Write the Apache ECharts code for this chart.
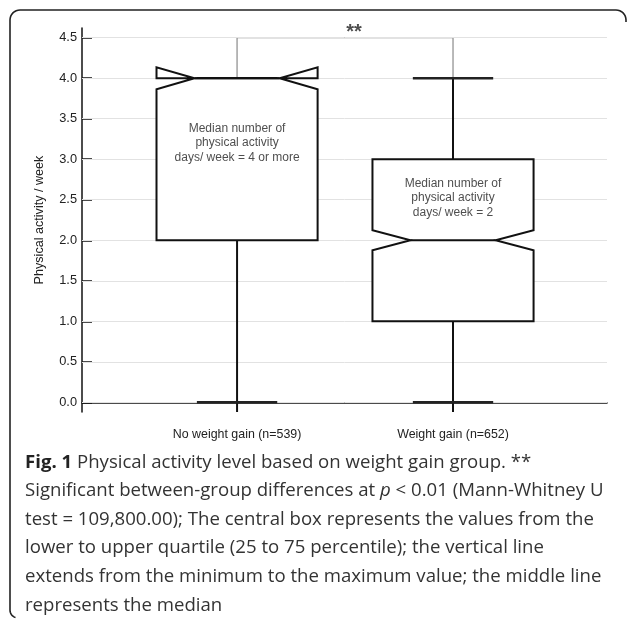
<!DOCTYPE html>
<html>
<head>
<meta charset="utf-8">
<script src="https://cdn.jsdelivr.net/npm/echarts@6/dist/echarts.min.js"></script>
<style>html,body{margin:0;padding:0;background:#fff;}#c{width:629px;height:620px;}</style>
</head>
<body>
<div id="c"></div>
<script>
// ---- data ----
const categories = ['No weight gain (n=539)', 'Weight gain (n=652)'];
const minVals = [0, 0];
const q1Vals = [2, 1];
const medians = [4, 2];
const q3Vals = [4, 3];
const maxVals = [4, 4];
const notchHalf = [0.135, 0.124];
const boxTexts = [
  'Median number of\nphysical activity\ndays/ week = 4 or more',
  'Median number of\nphysical activity\ndays/ week = 2'
];
const boxTextY = [3.2, 2.52];
const yTickValues = [0, 0.5, 1, 1.5, 2, 2.5, 3, 3.5, 4, 4.5];
const sigBracket = { from: 1, to: 2, base: 4.0, top: 4.5, label: '**' };

const Y_MIN = -0.12, Y_MAX = 4.62;
const X_MIN = 0.282, X_MAX = 2.713;
const BOX_HALF = 0.373, NOTCH_INNER = 0.197, CAP_HALF = 0.186;

const boxData = categories.map((c, i) => [i + 1, minVals[i], q1Vals[i], medians[i], q3Vals[i], maxVals[i], notchHalf[i]]);

function renderBox(params, api) {
  const x = api.value(0), mn = api.value(1), q1 = api.value(2), md = api.value(3), q3 = api.value(4), mx = api.value(5), n = api.value(6);
  const P = (xx, yy) => api.coord([xx, yy]);
  const L = x - BOX_HALF, R = x + BOX_HALF, Li = x - NOTCH_INNER, Ri = x + NOTCH_INNER;
  const poly = [
    P(L, q1), P(L, md - n), P(Li, md), P(L, md + n), P(L, q3),
    P(R, q3), P(R, md + n), P(Ri, md), P(R, md - n), P(R, q1)
  ];
  const capStyle = { stroke: '#222', lineWidth: 2.5 };
  const children = [];
  const a = P(x, q1), b = P(x, Y_MIN);
  children.push({ type: 'line', shape: { x1: a[0], y1: a[1], x2: b[0], y2: b[1] }, style: { stroke: '#111', lineWidth: 2 } });
  if (mx > q3) {
    const c1 = P(x, q3), c2 = P(x, mx);
    children.push({ type: 'line', shape: { x1: c1[0], y1: c1[1], x2: c2[0], y2: c2[1] }, style: { stroke: '#111', lineWidth: 2 } });
  }
  const m1 = P(x - CAP_HALF, mn), m2 = P(x + CAP_HALF, mn);
  children.push({ type: 'line', shape: { x1: m1[0], y1: m1[1], x2: m2[0], y2: m2[1] }, style: capStyle });
  const t1 = P(x - CAP_HALF, mx), t2 = P(x + CAP_HALF, mx);
  children.push({ type: 'line', shape: { x1: t1[0], y1: t1[1], x2: t2[0], y2: t2[1] }, style: capStyle });
  children.push({ type: 'polygon', shape: { points: poly }, style: { stroke: '#111', lineWidth: 2, fill: '#fff' } });
  const d1 = P(Li, md), d2 = P(Ri, md);
  children.push({ type: 'line', shape: { x1: d1[0], y1: d1[1], x2: d2[0], y2: d2[1] }, style: { stroke: '#111', lineWidth: 2 } });
  return { type: 'group', children };
}

// frame outline points (decorative)
function arcPts(cx, cy, r, a0, a1) {
  const pts = [];
  for (let k = 0; k <= 8; k++) {
    const t = a0 + (a1 - a0) * k / 8;
    pts.push([cx + r * Math.cos(t), cy + r * Math.sin(t)]);
  }
  return pts;
}
const framePts = [].concat(
  [[626, 22]],
  arcPts(616, 20, 10, 0, -Math.PI / 2),
  arcPts(20, 20, 10, -Math.PI / 2, -Math.PI),
  arcPts(18, 610, 8, Math.PI, Math.PI * 0.6)
);

const chart = echarts.init(document.getElementById('c'), null, { renderer: 'canvas' });
const option = {
  animation: false,
  backgroundColor: '#fff',
  textStyle: { fontFamily: 'Liberation Sans, Arial, sans-serif' },
  grid: { left: 82, right: 22, top: 28, bottom: 208, containLabel: false },
  xAxis: {
    type: 'value', min: X_MIN, max: X_MAX,
    axisLine: { show: true, lineStyle: { color: '#111', width: 1.5 } },
    axisTick: { show: false },
    splitLine: { show: false },
    axisLabel: {
      customValues: [1, 2],
      formatter: v => categories[Math.round(v) - 1] || '',
      color: '#222', fontSize: 12.4, margin: 17,
      fontFamily: 'Liberation Sans, Arial, sans-serif'
    }
  },
  yAxis: {
    type: 'value', min: Y_MIN, max: Y_MAX,
    name: 'Physical activity / week', nameLocation: 'middle', nameRotate: 90, nameGap: 36,
    nameTextStyle: { color: '#222', fontSize: 12.6, fontFamily: 'Liberation Sans, Arial, sans-serif' },
    axisLine: { show: true, lineStyle: { color: '#111', width: 1.5 } },
    axisTick: { show: true, inside: true, length: 10, customValues: yTickValues, lineStyle: { color: '#111', width: 1.5 } },
    splitLine: { show: false },
    axisLabel: {
      customValues: yTickValues,
      formatter: v => v.toFixed(1),
      color: '#222', fontSize: 12.8, margin: 5,
      fontFamily: 'Liberation Sans, Arial, sans-serif'
    }
  },
  series: [
    {
      type: 'line', silent: true, symbol: 'none', data: [],
      markLine: {
        silent: true, symbol: 'none', label: { show: false },
        lineStyle: { color: '#e2e2e2', width: 1, type: 'solid' },
        data: yTickValues.map(v => ({ yAxis: v }))
      }
    },
    {
      type: 'line', silent: true, symbol: 'none', z: 3,
      lineStyle: { color: '#8a8a8a', width: 1.2 },
      data: [[sigBracket.from, sigBracket.base], [sigBracket.from, sigBracket.top], [sigBracket.to, sigBracket.top], [sigBracket.to, sigBracket.base]]
    },
    {
      type: 'custom', z: 5, renderItem: renderBox, data: boxData,
      encode: { x: 0, y: [1, 2, 3, 4, 5] }
    },
    {
      type: 'scatter', z: 6, symbolSize: 0, silent: true,
      data: [[(sigBracket.from + sigBracket.to) / 2, sigBracket.top]],
      label: { show: true, position: 'top', distance: 1, offset: [9, 6], formatter: sigBracket.label, color: '#222', fontSize: 20, fontWeight: 'bold', fontFamily: 'Liberation Sans, Arial, sans-serif' }
    },
    {
      type: 'scatter', z: 7, symbolSize: 0, silent: true,
      data: boxTextY.map((y, i) => ({ value: [i + 1, y], name: boxTexts[i] })),
      label: { show: true, position: 'inside', formatter: p => p.name, color: '#222', fontSize: 12, lineHeight: 14.5, align: 'center', fontFamily: 'Liberation Sans, Arial, sans-serif' }
    }
  ],
  graphic: [
    {
      type: 'polyline', silent: true,
      shape: { points: framePts },
      style: { stroke: '#222', lineWidth: 1.6, fill: null }
    },
    {
      type: 'text', left: 25, top: 448, silent: true,
      style: {
        text: '{b|Fig. 1} Physical activity level based on weight gain group. **\n' +
              'Significant between-group differences at {i|p} < 0.01 (Mann-Whitney U\n' +
              'test = 109,800.00); The central box represents the values from the\n' +
              'lower to upper quartile (25 to 75 percentile); the vertical line\n' +
              'extends from the minimum to the maximum value; the middle line\n' +
              'represents the median',
        fontFamily: 'Open Sans, sans-serif', fontSize: 18.6, lineHeight: 28.6, fill: '#333',
        rich: {
          b: { fontFamily: 'Open Sans, sans-serif', fontWeight: 'bold', fontSize: 18.6, lineHeight: 28.6, fill: '#222' },
          i: { fontFamily: 'Open Sans, sans-serif', fontStyle: 'italic', fontSize: 18.6, lineHeight: 28.6, fill: '#333' }
        }
      }
    }
  ]
};
chart.setOption(option);
</script>
</body>
</html>
